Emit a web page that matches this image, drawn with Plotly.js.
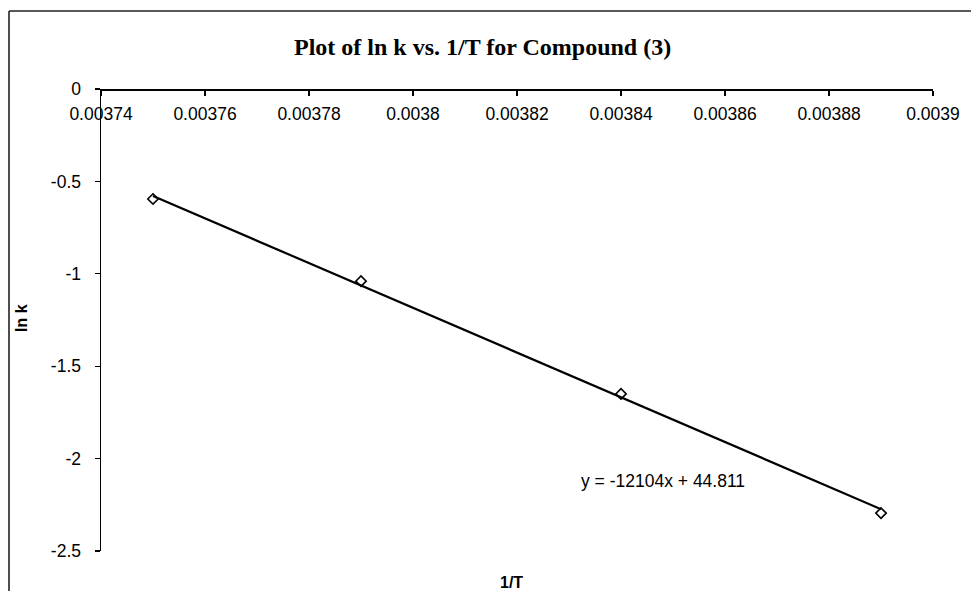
<!DOCTYPE html>
<html>
<head>
<meta charset="utf-8">
<script src="https://cdn.plot.ly/plotly-3.0.1.min.js"></script>
<style>html,body{margin:0;padding:0;background:#fff;}#chart{width:971px;height:591px;}</style>
</head>
<body>
<div id="chart"></div>
<script>
// Data
const invT = [0.00375, 0.00379, 0.00384, 0.00389];
const lnK = [-0.595, -1.04, -1.65, -2.295];
const slope = -12104;
const intercept = 44.811;
const xTickVals = [0.00374, 0.00376, 0.00378, 0.0038, 0.00382, 0.00384, 0.00386, 0.00388, 0.0039];
const xTickText = ["0.00374", "0.00376", "0.00378", "0.0038", "0.00382", "0.00384", "0.00386", "0.00388", "0.0039"];
const yTickVals = [0, -0.5, -1, -1.5, -2, -2.5];
const yTickText = ["0", "-0.5", "-1", "-1.5", "-2", "-2.5"];

const trendX = [invT[0], invT[invT.length - 1]];
const trendY = trendX.map(v => slope * v + intercept);

const sans = "Liberation Sans, Arial, sans-serif";
const serif = "Liberation Serif, Times New Roman, serif";

const traces = [
  {
    x: trendX, y: trendY, type: "scatter", mode: "lines",
    line: {color: "#000", width: 2.2}, hoverinfo: "skip", showlegend: false
  },
  {
    x: invT, y: lnK, type: "scatter", mode: "markers",
    marker: {symbol: "diamond-open", size: 8, color: "#000", line: {color: "#000", width: 1.6}},
    showlegend: false
  }
];

const layout = {
  width: 971, height: 591,
  paper_bgcolor: "#fff", plot_bgcolor: "#fff",
  margin: {l: 101, r: 38, t: 89, b: 40},
  showlegend: false,
  title: {
    text: "<b>Plot of ln k vs. 1/T for Compound (3)</b>",
    font: {family: serif, size: 24, color: "#000"},
    x: 0.497, xref: "container", xanchor: "center",
    y: 1 - 47 / 591, yref: "container", yanchor: "middle"
  },
  xaxis: {
    range: [0.00374, 0.0039],
    anchor: "free", position: 1, side: "bottom",
    tickmode: "array", tickvals: xTickVals, ticktext: xTickText,
    ticks: "outside", ticklen: 5, tickwidth: 1.3, tickcolor: "#000",
    ticklabelstandoff: 3,
    showline: true, linecolor: "#000", linewidth: 1.5,
    showgrid: false, zeroline: false,
    tickfont: {family: sans, size: 17.5, color: "#000"}
  },
  yaxis: {
    range: [-2.5, 0],
    tickmode: "array", tickvals: yTickVals, ticktext: yTickText,
    ticks: "outside", ticklen: 5, tickwidth: 1.3, tickcolor: "#000",
    ticklabelstandoff: 10,
    showline: true, linecolor: "#000", linewidth: 1.5,
    showgrid: false, zeroline: false,
    tickfont: {family: sans, size: 17.5, color: "#000"}
  },
  annotations: [
    {
      text: "<b>ln k</b>", xref: "paper", yref: "paper",
      x: (21 - 101) / 832, y: (551 - 318) / 462, xanchor: "center", yanchor: "middle",
      textangle: -90, showarrow: false,
      font: {family: sans, size: 16, color: "#000"}
    },
    {
      text: "<b>1/T</b>", xref: "paper", yref: "paper",
      x: (511 - 101) / 832, y: (551 - 582) / 462, xanchor: "center", yanchor: "middle",
      showarrow: false,
      font: {family: sans, size: 16, color: "#000"}
    },
    {
      text: "y = " + "-" + Math.abs(slope) + "x + " + intercept,
      xref: "x", yref: "y",
      x: 0.003848, y: -2.121, xanchor: "center", yanchor: "middle",
      showarrow: false,
      font: {family: sans, size: 17.5, color: "#000"}
    }
  ],
  shapes: [
    {type: "line", xref: "paper", yref: "paper",
     x0: (9 - 101) / 832, x1: (9 - 101) / 832, y0: (551 - 600) / 462, y1: (551 - 11) / 462,
     line: {color: "#222", width: 1.6}},
    {type: "line", xref: "paper", yref: "paper",
     x0: (9 - 101) / 832, x1: (980 - 101) / 832, y0: (551 - 11) / 462, y1: (551 - 11) / 462,
     line: {color: "#222", width: 1.6}}
  ]
};

Plotly.newPlot("chart", traces, layout, {staticPlot: true, displayModeBar: false});
</script>
</body>
</html>
